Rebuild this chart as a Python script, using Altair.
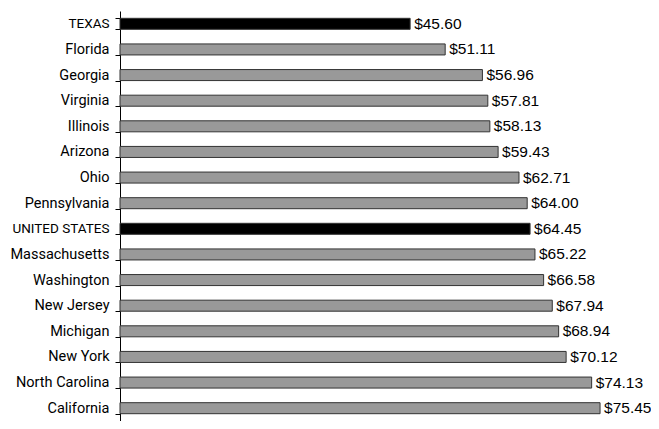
import altair as alt
import pandas as pd

states = ["TEXAS", "Florida", "Georgia", "Virginia", "Illinois", "Arizona", "Ohio",
          "Pennsylvania", "UNITED STATES", "Massachusetts", "Washington", "New Jersey",
          "Michigan", "New York", "North Carolina", "California"]
values = [45.60, 51.11, 56.96, 57.81, 58.13, 59.43, 62.71, 64.00, 64.45, 65.22,
          66.58, 67.94, 68.94, 70.12, 74.13, 75.45]
highlight = ["TEXAS", "UNITED STATES"]

df = pd.DataFrame({"state": states, "value": values})
df["hl"] = df["state"].isin(highlight)

FONT = "Liberation Sans"
LABEL_FONT = "Roboto"
caps_test = "datum.value == 'TEXAS' || datum.value == 'UNITED STATES'"

y = alt.Y("state:N", sort=states,
          scale=alt.Scale(paddingInner=0.57, paddingOuter=0.285),
          axis=alt.Axis(title=None, tickBand="extent", tickSize=5, tickColor="#000",
                        domainColor="#000", labelColor="#000",
                        labelFontSize={"condition": {"test": caps_test, "value": 13.5}, "value": 14.5},
                        labelFont=LABEL_FONT,
                        labelPadding=6, grid=False))
x = alt.X("value:Q", scale=alt.Scale(domain=[0, 80], nice=False), axis=None)

bars = alt.Chart(df).mark_bar(stroke="#333333", strokeWidth=1).encode(
    x=x, y=y,
    color=alt.condition("datum.hl", alt.value("#000000"), alt.value("#999999")),
)

text = alt.Chart(df).transform_calculate(
    label="'$' + format(datum.value, '.2f')"
).mark_text(align="left", baseline="middle", dx=4, fontSize=15.5, font=FONT, color="#000").encode(
    x=x, y=y, text="label:N"
)

chart = (bars + text).properties(
    width=509, height=410,
    autosize=alt.AutoSizeParams(type="none"),
    padding={"left": 112, "top": 3, "right": 22, "bottom": 0},
).configure_view(stroke=None)

chart.save("out.html", embed_options={"renderer": "svg", "actions": False})
